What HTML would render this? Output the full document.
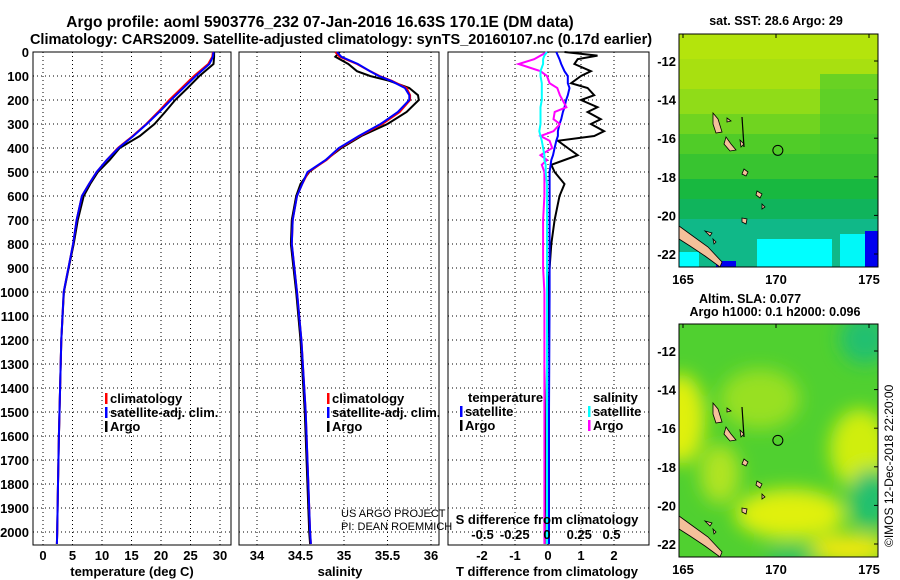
<!DOCTYPE html>
<html><head><meta charset="utf-8"><style>
body{margin:0;background:#fff;}
svg{display:block;font-family:"Liberation Sans",sans-serif;font-weight:bold;}
</style></head><body>
<svg id="c" width="900" height="580" viewBox="0 0 900 580">
<text x="320" y="27" font-size="15.5" text-anchor="middle">Argo profile: aoml 5903776_232 07-Jan-2016 16.63S 170.1E (DM data)</text>
<text x="341" y="44" font-size="14.5" text-anchor="middle">Climatology: CARS2009. Satellite-adjusted climatology: synTS_20160107.nc (0.17d earlier)</text>
<g id="plots"></g>
<g id="maps"></g>
<text transform="translate(893,547) rotate(-90)" font-size="12" font-weight="normal">©IMOS 12-Dec-2018 22:20:00</text>
</svg>
<script>
// ---- data ----
const depthT = [0,20,50,100,150,200,250,300,350,400,450,500,550,600,700,800,900,1000,1200,1400,1600,1800,2000,2050];
const tempClim = [28.8,28.7,28.0,25.6,23.5,21.4,19.5,17.5,15.2,12.7,10.8,9.1,7.8,6.6,5.7,5.1,4.3,3.5,3.1,2.9,2.7,2.55,2.4,2.35];
const tempSat  = [28.9,28.8,28.2,25.9,23.8,21.7,19.7,17.6,15.3,12.8,10.8,9.1,7.8,6.6,5.7,5.1,4.3,3.5,3.1,2.9,2.7,2.55,2.4,2.35];
const tempArgo = [29.0,29.0,28.9,26.5,24.5,22.4,20.7,18.9,16.4,13.0,11.3,9.3,8.0,6.9,5.9,5.2,4.35,3.55,3.1,2.9,2.7,2.55,2.4,2.35];
const depthS = [0,20,50,80,100,120,150,180,200,250,300,350,400,450,500,550,600,700,800,900,1000,1200,1500,2000,2050];
const salClim = [34.9,34.95,35.15,35.3,35.41,35.55,35.72,35.76,35.76,35.64,35.44,35.18,34.95,34.8,34.59,34.52,34.46,34.41,34.40,34.43,34.46,34.51,34.56,34.61,34.62];
const salSat  = [34.92,34.97,35.16,35.3,35.4,35.54,35.7,35.75,35.75,35.62,35.42,35.17,34.94,34.79,34.58,34.52,34.46,34.41,34.40,34.43,34.46,34.51,34.56,34.61,34.62];
const salArgo = [34.95,34.9,35.05,35.15,35.3,35.52,35.75,35.85,35.86,35.72,35.5,35.2,34.97,34.79,34.6,34.5,34.45,34.4,34.39,34.42,34.45,34.5,34.55,34.6,34.61];
const depthD = [0,15,30,50,80,100,130,150,180,200,230,250,280,300,330,350,370,400,430,450,470,500,550,600,700,800,900,1000,1500,2000,2050];
const tDiffArgo = [0.5,1.5,0.9,0.8,1.3,1.0,0.7,1.2,1.4,1.0,1.5,1.2,1.6,1.3,1.7,1.4,0.3,0.6,0.9,0.5,0.1,0.2,0.5,0.35,0.2,0.1,0.05,0.0,-0.05,-0.1,-0.1];
const tDiffSat  = [0.25,0.3,0.35,0.4,0.5,0.6,0.6,0.65,0.6,0.55,0.5,0.45,0.4,0.35,0.3,0.3,0.25,0.2,0.15,0.1,0.08,0.05,0.05,0.05,0.05,0.05,0.05,0.05,0.03,0.03,0.03];
const sDiffArgo = [0.0,-0.05,-0.1,-0.22,-0.05,0.0,0.02,0.08,0.1,0.12,0.15,0.06,0.05,0.1,0.05,-0.05,0.02,0.04,-0.05,0.0,-0.04,-0.02,-0.02,-0.02,-0.03,-0.03,-0.03,-0.02,-0.02,-0.02,-0.02];
const sDiffSat  = [0.0,-0.02,-0.03,-0.03,-0.05,-0.05,-0.04,-0.04,-0.04,-0.04,-0.05,-0.05,-0.05,-0.05,-0.06,-0.05,-0.04,-0.03,-0.02,-0.02,-0.01,-0.01,0.0,0.0,0.0,0.0,0.0,0.0,0.0,0.0,0.0];
const depthTicks = [0,100,200,300,400,500,600,700,800,900,1000,1100,1200,1300,1400,1500,1600,1700,1800,1900,2000];
const tempTicks = [0,5,10,15,20,25,30];
const salTicks = [34,34.5,35,35.5,36];
const tdTicks = [-2,-1,0,1,2];
const sdTicks = [-0.5,-0.25,0,0.25,0.5];
const latTicks = [-12,-14,-16,-18,-20,-22];
const lonTicks = [165,170,175];

const NS='http://www.w3.org/2000/svg';
function el(tag,attrs,parent,txt){const e=document.createElementNS(NS,tag);for(const k in attrs)e.setAttribute(k,attrs[k]);if(txt!==undefined)e.textContent=txt;parent.appendChild(e);return e;}
const yD = d => 52 + d*0.24;
const topY=52, botY=545;
const P = document.getElementById('plots');

function panel(name,x0,x1,xs,ticks){
  const g=el('g',{},P);
  
  
  for(const t of ticks){const x=xs(t);el('line',{x1:x,x2:x,y1:topY,y2:botY,stroke:'#000','stroke-dasharray':'1,3'},g);}
  for(const d of depthTicks){const y=yD(d);el('line',{x1:x0,x2:x1,y1:y,y2:y,stroke:'#000','stroke-dasharray':'1,3'},g);}
  el('rect',{x:x0,y:topY,width:x1-x0,height:botY-topY,fill:'none',stroke:'#000','stroke-width':1},g);
  return g;
}
function line(g,name,xs,vals,deps,color,w){
  const p=el('polyline',{points:vals.map((v,i)=>xs(v).toFixed(1)+','+yD(deps[i]).toFixed(1)).join(' '),fill:'none',stroke:color,'stroke-width':w},g);
  
  
}
function txt(g,name,x,y,s,size,anchor,weight){
  const t=el('text',{x:x,y:y,'font-size':size||13,'text-anchor':anchor||'start'},g,s);
  if(weight)t.setAttribute('font-weight',weight);
  
  
  return t;
}
function legend(g,x,y,color,label,name){
  const r=el('rect',{x:x,y:y-10,width:2.5,height:11,fill:color},g);
  
  
  txt(g,name,x+5,y,label,13);
}

// Panel 1 temperature
const xT = v => 43 + v*5.9;
const g1=panel('temperature-panel',33,231,xT,tempTicks);
line(g1,'temp-argo-line',xT,tempArgo,depthT,'#000',2);
line(g1,'temp-climatology-line',xT,tempClim,depthT,'#f00',2);
line(g1,'temp-satellite-line',xT,tempSat,depthT,'#00f',2);
for(const d of depthTicks) txt(g1,'depth-tick-label',29,yD(d)+5,String(d),13,'end');
for(const t of tempTicks) txt(g1,'temp-tick-label',xT(t),560,String(t),13,'middle');
txt(g1,'x-axis-title-temperature',132,576,'temperature (deg C)',13,'middle');
legend(g1,105,403,'#f00','climatology','legend-climatology');
legend(g1,105,417,'#00f','satellite-adj. clim.','legend-satellite');
legend(g1,105,431,'#000','Argo','legend-argo');

// Panel 2 salinity
const xS = v => 257 + (v-34)*87;
const g2=panel('salinity-panel',239,439,xS,salTicks);
line(g2,'sal-argo-line',xS,salArgo,depthS,'#000',2);
line(g2,'sal-climatology-line',xS,salClim,depthS,'#f00',2);
line(g2,'sal-satellite-line',xS,salSat,depthS,'#00f',2);
for(const t of salTicks) txt(g2,'sal-tick-label',xS(t),560,String(t),13,'middle');
txt(g2,'x-axis-title-salinity',340,576,'salinity',13,'middle');
legend(g2,327,403,'#f00','climatology','legend-climatology');
legend(g2,327,417,'#00f','satellite-adj. clim.','legend-satellite');
legend(g2,327,431,'#000','Argo','legend-argo');
txt(g2,'project-credit',341,517,'US ARGO PROJECT',11,'start','normal');
txt(g2,'pi-credit',341,530,'PI: DEAN ROEMMICH',11,'start','normal');

// Panel 3 differences
const xTD = v => 548 + v*33;
const xSD = v => 547 + v*129;
const g3=panel('difference-panel',448,649,xTD,tdTicks);
line(g3,'tdiff-argo-line',xTD,tDiffArgo,depthD,'#000',2);
line(g3,'tdiff-satellite-line',xTD,tDiffSat,depthD,'#00f',2);
line(g3,'sdiff-argo-line',xSD,sDiffArgo,depthD,'#f0f',2);
line(g3,'sdiff-satellite-line',xSD,sDiffSat,depthD,'#0ff',2);
for(const t of tdTicks) txt(g3,'tdiff-tick-label',xTD(t),560,String(t),13,'middle');
for(const t of sdTicks) txt(g3,'sdiff-tick-label',xSD(t),539,String(t),13,'middle');
txt(g3,'sdiff-axis-title',547,524,'S difference from climatology',13,'middle');
txt(g3,'x-axis-title-tdiff',547,576,'T difference from climatology',13,'middle');
txt(g3,'legend-temperature-heading',468,402,'temperature',13);
legend(g3,460,416,'#00f','satellite','legend-t-satellite');
legend(g3,460,430,'#000','Argo','legend-t-argo');
txt(g3,'legend-salinity-heading',593,402,'salinity',13);
legend(g3,588,416,'#0ff','satellite','legend-s-satellite');
legend(g3,588,430,'#f0f','Argo','legend-s-argo');

// ---- maps ----
const M=document.getElementById('maps');
const lonX = l => 683 + (l-165)*18.6;
function map(name,y0,lat12y,kind){
  const g=el('g',{},M);
  
  
  const latY = la => lat12y + (-12-la)*19.3;
  const h=233;
  const cid='clip'+name;
  const cp=el('clipPath',{id:cid},g);el('rect',{x:679,y:y0,width:199,height:h},cp);
  const inner=el('g',{'clip-path':'url(#'+cid+')'},g);
  if(kind==='sst'){
    const bands=[[0,25,'#b4e40c'],[25,30,'#a8e010'],[55,25,'#90dc18'],[80,20,'#70d420'],[100,20,'#50cc28'],[120,25,'#38c430'],[145,20,'#18b840'],[165,20,'#10b45c'],[185,48,'#10b888']];
    bands.forEach(b=>el('rect',{x:679,y:y0+b[0],width:199,height:b[1],fill:b[2]},inner));
    el('rect',{x:820,y:y0+40,width:58,height:80,fill:'#40c830','opacity':0.6},inner);
    el('rect',{x:757,y:y0+205,width:75,height:28,fill:'#00ffff'},inner);
    el('rect',{x:840,y:y0+200,width:38,height:33,fill:'#00f8f8'},inner);
    el('rect',{x:865,y:y0+197,width:13,height:36,fill:'#0000f0'},inner);
    el('rect',{x:679,y:y0+218,width:20,height:15,fill:'#00ffff'},inner);
    el('rect',{x:716,y:y0+227,width:20,height:6,fill:'#0000f0'},inner);
  } else {
    el('rect',{x:679,y:y0,width:199,height:h,fill:'#50d030'},inner);
    const f=el('filter',{id:'blur'+name},g);el('feGaussianBlur',{stdDeviation:9},f);
    const b=el('g',{filter:'url(#blur'+name+')'},inner);
    [[680,y0+95,25,45,'#e0f010'],[860,y0+125,30,40,'#d0ee10'],[790,y0+190,55,25,'#e0f010'],[850,y0+225,40,15,'#f0e810'],[760,y0+75,40,30,'#98e020'],[865,y0+15,25,25,'#20c070'],[870,y0+175,20,30,'#20c070'],[790,y0+232,25,8,'#20c070'],[720,y0+150,20,30,'#b0e420']].forEach(e=>el('ellipse',{cx:e[0],cy:e[1],rx:e[2],ry:e[3],fill:e[4]},b));
  }
  const isl=[[[679,y0+192],[690,y0+200],[708,y0+213],[722,y0+228],[720,y0+233],[705,y0+222],[690,y0+212],[679,y0+205]],
    [[713,y0+79],[718,y0+85],[722,y0+98],[716,y0+99],[713,y0+90]],[[726,y0+103],[731,y0+110],[736,y0+116],[730,y0+117],[724,y0+110]],
    [[740,y0+106],[744,y0+110],[741,y0+113]],[[744,y0+135],[748,y0+138],[746,y0+142],[742,y0+140]],[[757,y0+157],[762,y0+160],[760,y0+164],[756,y0+161]],
    [[762,y0+170],[765,y0+173],[762,y0+175]],[[727,y0+84],[731,y0+87],[727,y0+88]],[[742,y0+184],[747,y0+185],[746,y0+190],[742,y0+188]],
    [[705,y0+197],[712,y0+199],[710,y0+202]],[[713,y0+205],[716,y0+208],[714,y0+210]]];
  isl.forEach(pts=>el('polygon',{points:pts.map(p=>p.join(',')).join(' '),fill:'#f4c09a',stroke:'#000','stroke-width':0.8},inner));
  el('line',{x1:742,y1:y0+83,x2:744,y2:y0+113,stroke:'#000','stroke-width':1.2},inner);
  const c=el('circle',{cx:lonX(170.1),cy:latY(-16.63),r:5,fill:'none',stroke:'#000','stroke-width':1},inner);
  
  
  el('rect',{x:679,y:y0,width:199,height:h,fill:'none',stroke:'#000'},g);
  for(const la of latTicks){const y=latY(la);el('line',{x1:878,x2:874,y1:y,y2:y,stroke:'#000'},g);txt(g,'lat-tick-label',676,y+5,String(la),13,'end');}
  for(const lo of lonTicks){const x=lonX(lo);el('line',{x1:x,x2:x,y1:y0,y2:y0+4,stroke:'#000'},g);txt(g,'lon-tick-label',x,y0+h+17,String(lo),13,'middle');}
  return g;
}
map('sst-map',34,61,'sst');
txt(M,'sst-map-title',776,25,'sat. SST: 28.6 Argo: 29',12.5,'middle');
map('sla-map',324,351,'sla');
txt(M,'sla-map-title',750,303,'Altim. SLA: 0.077',12.5,'middle');
txt(M,'sla-map-subtitle',775,316,'Argo h1000: 0.1 h2000: 0.096',12.5,'middle');
</script>
</body></html>
